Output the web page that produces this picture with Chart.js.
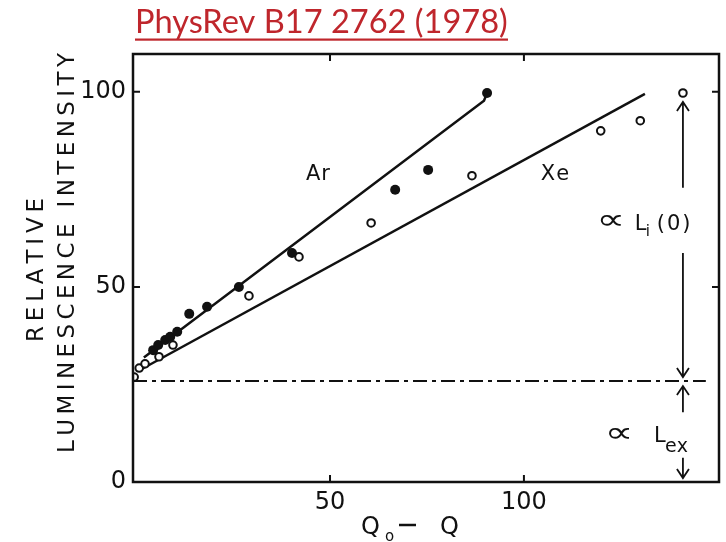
<!DOCTYPE html>
<html>
<head>
<meta charset="utf-8">
<script src="https://cdn.jsdelivr.net/npm/chart.js@4.4.0/dist/chart.umd.min.js"></script>
<style>
  html, body { margin: 0; padding: 0; background: #fff; }
</style>
</head>
<body>
<canvas id="myChart" width="726" height="542"></canvas>
<script>
// values
const arX = [4.4, 5.7, 7.5, 8.8, 10.6, 13.7, 18.3, 26.5, 40.2, 66.8, 75.3, 90.5];
const arY = [33.8, 35.1, 36.4, 37.2, 38.5, 43.1, 44.9, 50.0, 58.7, 74.9, 80.0, 99.7];
const xeX = [-0.5, 0.8, 2.3, 5.9, 9.5, 29.1, 42.0, 60.6, 86.6, 119.8, 130.0, 141.0];
const xeY = [26.9, 29.2, 30.3, 32.1, 35.1, 47.7, 57.7, 66.4, 78.5, 90.0, 92.6, 99.7];

// straight fits drawn in the paper
const arFitX = [2.0, 89.7, 90.5];
const arFitY = [31.9, 97.7, 99.7];
const xeFitX = [1.0, 131.2];
const xeFitY = [28.7, 99.5];

// dash-dot level (L_ex)
const baseX = [-0.8, 146.9];
const baseY = [25.9, 25.9];

const xTickLabels = [50, 100];
const yTickLabels = [0, 50, 100];
const xTickMarks = [50, 100];
const yTickMarks = [50, 100];

// arrows on the right: [x, from, tip]
const arrows = [
  [141, 75.4, 97.4],
  [141, 58.7, 26.9],
  [141, 17.9, 24.6],
  [141, 6.2, 1.0]
];

const ink = '#111';
const fam = '"DejaVu Sans", sans-serif';

function pts(xs, ys) {
  return xs.map((x, i) => ({ x: x, y: ys[i] }));
}

// draw text with extra letter spacing, horizontally aligned
function spaced(ctx, str, x, y, spacing, align) {
  let w = 0;
  const widths = [];
  for (const ch of str) {
    const cw = ctx.measureText(ch).width;
    widths.push(cw);
    w += cw;
  }
  w += spacing * (widths.length - 1);
  let cx = x;
  if (align === 'center') cx = x - w / 2;
  if (align === 'right') cx = x - w;
  ctx.textAlign = 'left';
  let i = 0;
  for (const ch of str) {
    ctx.fillText(ch, cx, y);
    cx += widths[i++] + spacing;
  }
}

function fitSpacing(ctx, str, target) {
  const n = [...str].length;
  let w = 0;
  for (const ch of str) w += ctx.measureText(ch).width;
  return (target - w) / (n - 1);
}

// the proportional sign, stretched to look like the hand lettering
function propSign(ctx, x, y) {
  ctx.save();
  ctx.translate(x, y);
  ctx.scale(2.0, 1.45);
  ctx.font = '20px ' + fam;
  ctx.textAlign = 'center';
  ctx.textBaseline = 'middle';
  ctx.fillText('\u221D', 0, 0);
  ctx.restore();
}

const decor = {
  id: 'decor',
  afterDraw(chart) {
    const ctx = chart.ctx;
    const a = chart.chartArea;
    const xs = chart.scales.x, ys = chart.scales.y;
    const px = v => xs.getPixelForValue(v);
    const py = v => ys.getPixelForValue(v);
    ctx.save();

    // frame
    ctx.strokeStyle = ink;
    ctx.lineWidth = 2.5;
    ctx.strokeRect(a.left, a.top, a.right - a.left, a.bottom - a.top);

    // inward tick marks
    ctx.lineWidth = 2;
    ctx.beginPath();
    xTickMarks.forEach(v => {
      ctx.moveTo(px(v), a.bottom); ctx.lineTo(px(v), a.bottom - 7);
      ctx.moveTo(px(v), a.top); ctx.lineTo(px(v), a.top + 7);
    });
    yTickMarks.forEach(v => {
      ctx.moveTo(a.left, py(v)); ctx.lineTo(a.left + 7, py(v));
      ctx.moveTo(a.right, py(v)); ctx.lineTo(a.right - 7, py(v));
    });
    ctx.stroke();

    // arrows
    ctx.lineWidth = 1.8;
    arrows.forEach(ar => {
      const x = px(ar[0]), y0 = py(ar[1]), y1 = py(ar[2]);
      const d = y1 < y0 ? 1 : -1;
      ctx.beginPath();
      ctx.moveTo(x, y0); ctx.lineTo(x, y1);
      ctx.moveTo(x - 6, y1 + d * 9); ctx.lineTo(x, y1); ctx.lineTo(x + 6, y1 + d * 9);
      ctx.stroke();
    });

    ctx.fillStyle = ink;
    ctx.textBaseline = 'middle';

    // series labels
    ctx.font = '21px ' + fam;
    spaced(ctx, 'Ar', px(46.9), py(78.7), 1, 'center');
    spaced(ctx, 'Xe', px(108), py(78.7), 1, 'center');

    // proportional labels
    ctx.textBaseline = 'alphabetic';
    let ax = px(122.4), ay = py(66.7);
    propSign(ctx, ax, ay);
    ctx.font = '21px ' + fam;
    spaced(ctx, 'L', ax + 24, ay + 8, 0, 'left');
    ctx.font = '15px ' + fam;
    spaced(ctx, 'i', ax + 35, ay + 14, 0, 'left');
    ctx.font = '21px ' + fam;
    spaced(ctx, '(0)', ax + 46, ay + 8, 2, 'left');

    ax = px(124.5); ay = py(12.3);
    propSign(ctx, ax, ay);
    ctx.font = '21px ' + fam;
    spaced(ctx, 'L', ax + 35, ay + 8, 0, 'left');
    ctx.font = '19px ' + fam;
    spaced(ctx, 'ex', ax + 46, ay + 18, 0, 'left');

    // y axis title, two lines
    ctx.save();
    ctx.font = '23px ' + fam;
    ctx.translate(37, 270);
    ctx.rotate(-Math.PI / 2);
    ctx.textBaseline = 'middle';
    spaced(ctx, 'RELATIVE', 0, 0, fitSpacing(ctx, 'RELATIVE', 144), 'center');
    ctx.restore();
    ctx.save();
    ctx.font = '23px ' + fam;
    ctx.translate(68, 253);
    ctx.rotate(-Math.PI / 2);
    ctx.textBaseline = 'middle';
    const t2 = 'LUMINESCENCE INTENSITY';
    spaced(ctx, t2, 0, 0, fitSpacing(ctx, t2, 400), 'center');
    ctx.restore();

    // x axis title  Q0 - Q
    ctx.font = '24px ' + fam;
    ctx.textBaseline = 'alphabetic';
    spaced(ctx, 'Q', 361, 534, 0, 'left');
    ctx.font = '15px ' + fam;
    spaced(ctx, 'o', 385, 541, 0, 'left');
    ctx.lineWidth = 2.5;
    ctx.beginPath();
    ctx.moveTo(399, 525); ctx.lineTo(416, 525);
    ctx.stroke();
    ctx.font = '24px ' + fam;
    spaced(ctx, 'Q', 440, 534, 0, 'left');

    // source title, red and underlined
    const title = 'PhysRev B17 2762 (1978)';
    ctx.fillStyle = '#bf262c';
    let fs = 28;
    ctx.font = fs + 'px Lato, "Open Sans", sans-serif';
    fs = fs * 373 / ctx.measureText(title).width;
    ctx.font = fs + 'px Lato, "Open Sans", sans-serif';
    ctx.fillText(title, 135, 33);
    ctx.fillRect(135, 38.5, 373, 2.2);

    ctx.restore();
  }
};

new Chart(document.getElementById('myChart').getContext('2d'), {
  type: 'scatter',
  data: {
    datasets: [
      {
        label: 'Ar',
        data: pts(arX, arY),
        pointRadius: 5,
        pointBackgroundColor: ink,
        pointBorderWidth: 0,
        showLine: false
      },
      {
        label: 'Xe',
        data: pts(xeX, xeY),
        pointRadius: 3.8,
        pointBackgroundColor: '#fff',
        pointBorderColor: ink,
        pointBorderWidth: 2,
        showLine: false
      },
      {
        label: 'Ar fit',
        data: pts(arFitX, arFitY),
        showLine: true,
        pointRadius: 0,
        borderColor: ink,
        borderWidth: 2.5
      },
      {
        label: 'Xe fit',
        data: pts(xeFitX, xeFitY),
        showLine: true,
        pointRadius: 0,
        borderColor: ink,
        borderWidth: 2.5
      },
      {
        label: 'L_ex',
        data: pts(baseX, baseY),
        showLine: true,
        pointRadius: 0,
        borderColor: ink,
        borderWidth: 2,
        borderDash: [14, 5, 4, 5]
      }
    ]
  },
  options: {
    responsive: false,
    animation: false,
    devicePixelRatio: 1,
    layout: { padding: { top: 54, right: 7, left: 0, bottom: 0 } },
    plugins: { legend: { display: false }, tooltip: { enabled: false } },
    scales: {
      x: {
        type: 'linear',
        min: -0.8,
        max: 150.3,
        afterFit: s => { s.height = 60; },
        afterBuildTicks: s => { s.ticks = xTickLabels.map(v => ({ value: v })); },
        grid: { display: false, drawTicks: false },
        border: { display: false },
        ticks: {
          padding: 6,
          maxRotation: 0,
          autoSkip: false,
          color: ink,
          font: { family: fam, size: 24 }
        }
      },
      y: {
        type: 'linear',
        min: 0,
        max: 109.7,
        afterFit: s => { s.width = 133; },
        afterBuildTicks: s => { s.ticks = yTickLabels.map(v => ({ value: v })); },
        grid: { display: false, drawTicks: false },
        border: { display: false },
        ticks: {
          padding: 7,
          color: ink,
          font: { family: fam, size: 24 }
        }
      }
    }
  },
  plugins: [decor]
});
</script>
</body>
</html>
